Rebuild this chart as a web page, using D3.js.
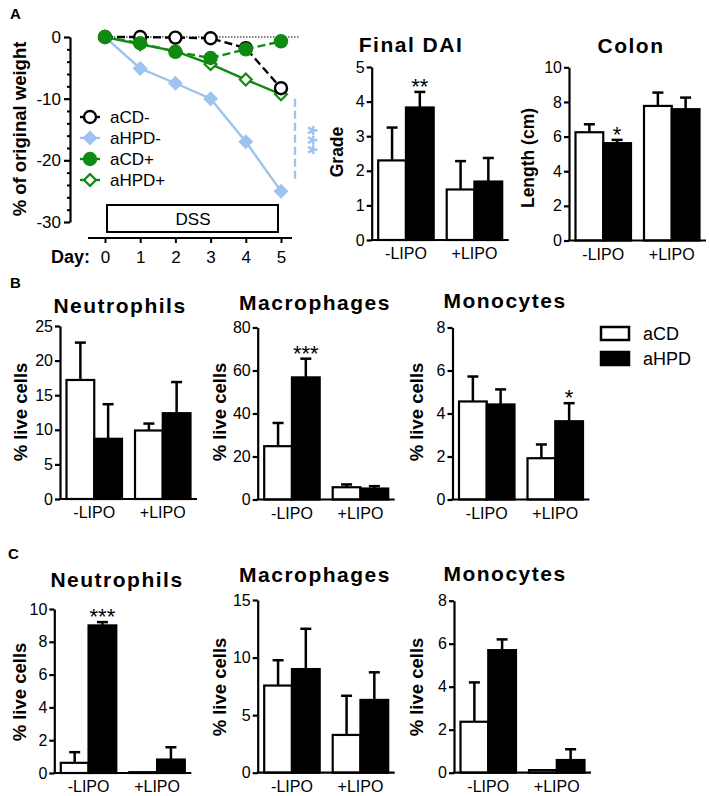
<!DOCTYPE html>
<html><head><meta charset="utf-8">
<script src="https://cdn.jsdelivr.net/npm/d3@7"></script>
<style>
body{margin:0;background:#fff}
svg{display:block}
text{font-family:"Liberation Sans",Arial,Helvetica,sans-serif;fill:#000}
</style>
</head><body>
<svg id="c" width="709" height="796"></svg>
<script>
// ---------------- DATA ----------------
const days = [0, 1, 2, 3, 4, 5];
const weightTicks = [0, -10, -20, -30];
const aCDminus  = [0, 0, -0.1, -0.2, -1.8, -8.3];
const aHPDminus = [0, -5.1, -7.5, -10, -17, -25];
const aCDplus   = [0, -1.0, -2.4, -3.4, -2.0, -0.7];
const aHPDplus  = [0, -1.2, -2.3, -4.4, -6.9, -9.3];

const groups = ["-LIPO", "+LIPO"];
const seriesNames = ["aCD", "aHPD"];

const daiCD = [2.3, 1.46],  daiCDerr = [0.95, 0.82];
const daiHPD = [3.83, 1.69], daiHPDerr = [0.45, 0.68];
const daiTicks = [0, 1, 2, 3, 4, 5];

const colonCD = [6.25, 7.77],  colonCDerr = [0.46, 0.77];
const colonHPD = [5.62, 7.58], colonHPDerr = [0.19, 0.67];
const colonTicks = [0, 2, 4, 6, 8, 10];

const bNeuCD = [17.2, 9.9],  bNeuCDerr = [5.4, 1.0];
const bNeuHPD = [8.7, 12.4], bNeuHPDerr = [5.0, 4.5];
const bNeuTicks = [0, 5, 10, 15, 20, 25];

const bMacCD = [24.8, 5.7],  bMacCDerr = [10.8, 1.3];
const bMacHPD = [56.8, 5.1], bMacHPDerr = [8.7, 1.1];
const bMacTicks = [0, 20, 40, 60, 80];

const bMonCD = [4.56, 1.92],  bMonCDerr = [1.16, 0.64];
const bMonHPD = [4.42, 3.64], bMonHPDerr = [0.7, 0.84];
const bMonTicks = [0, 2, 4, 6, 8];

const cNeuCD = [0.62, 0.05], cNeuCDerr = [0.65, 0];
const cNeuHPD = [9.0, 0.82], cNeuHPDerr = [0.2, 0.75];
const cNeuTicks = [0, 2, 4, 6, 8, 10];

const cMacCD = [7.57, 3.28], cMacCDerr = [2.2, 3.4];
const cMacHPD = [9.0, 6.32], cMacHPDerr = [3.5, 2.4];
const cMacTicks = [0, 5, 10, 15];

const cMonCD = [2.37, 0.12], cMonCDerr = [1.83, 0];
const cMonHPD = [5.7, 0.59], cMonHPDerr = [0.5, 0.5];
const cMonTicks = [0, 2, 4, 6, 8];

// ---------------- DRAWING ----------------
const svg = d3.select("#c");
const BLUE = "#9dc3ee", GREEN = "#118a11";
const fmt = d => String(d);

function styleAxis(sel, w) {
  sel.selectAll(".domain").attr("stroke", "#000").attr("stroke-width", w || 2);
  sel.selectAll(".tick line").attr("stroke", "#000").attr("stroke-width", w || 2);
  sel.selectAll(".tick text").attr("fill", "#000");
}

// panel letters
[["A", 10, 19], ["B", 10, 288], ["C", 8, 559]].forEach(([t, x, y]) =>
  svg.append("text").attr("x", x).attr("y", y).attr("font-size", 15).attr("font-weight", "bold").text(t));

// ---------- Panel A: weight line chart ----------
(function () {
  const g = svg.append("g");
  const x = d3.scaleLinear().domain([0, 5]).range([105, 281]);
  const y = d3.scaleLinear().domain([0, -30]).range([37, 222]);

  g.append("line").attr("x1", x(0)).attr("x2", 300).attr("y1", y(0)).attr("y2", y(0))
    .attr("stroke", "#000").attr("stroke-width", 1).attr("stroke-dasharray", "1.5,1.5");

  const ya = g.append("g").attr("transform", "translate(70,0)")
    .call(d3.axisLeft(y).tickValues(weightTicks).tickFormat(fmt).tickSize(6).tickSizeOuter(0).tickPadding(3));
  ya.selectAll(".tick text").attr("font-size", 17);
  styleAxis(ya, 2.2);
  const minor = d3.range(0, -31, -2).filter(v => v % 10 !== 0);
  const ym = g.append("g").attr("transform", "translate(70,0)")
    .call(d3.axisLeft(y).tickValues(minor).tickFormat("").tickSize(3).tickSizeOuter(0));
  ym.select(".domain").remove();
  styleAxis(ym, 2);

  const xa = g.append("g").attr("transform", "translate(0,238)")
    .call(d3.axisBottom(x).tickValues(days).tickFormat(fmt).tickSize(5).tickPadding(8));
  xa.select(".domain").remove();
  xa.selectAll(".tick text").attr("font-size", 17);
  styleAxis(xa, 2);
  g.append("line").attr("x1", 88).attr("x2", 292).attr("y1", 238).attr("y2", 238)
    .attr("stroke", "#000").attr("stroke-width", 2.2);
  g.append("text").attr("x", 90).attr("y", 263).attr("text-anchor", "end")
    .attr("font-size", 18).attr("font-weight", "bold").text("Day:");

  g.append("text").attr("transform", "translate(26,129) rotate(-90)").attr("text-anchor", "middle")
    .attr("font-size", 18.5).attr("font-weight", "bold").text("% of original weight");

  g.append("rect").attr("x", x(0) + 2).attr("y", 205).attr("width", x(5) - x(0) - 5).attr("height", 27)
    .attr("fill", "#fff").attr("stroke", "#000").attr("stroke-width", 2);
  g.append("text").attr("x", (x(0) + x(5)) / 2).attr("y", 224.5).attr("text-anchor", "middle")
    .attr("font-size", 17).text("DSS");

  const series = [
    { name: "aCD-",  vals: aCDminus,  color: "#000", dash: "8,4", marker: "circle", fill: "#fff" },
    { name: "aHPD-", vals: aHPDminus, color: BLUE,   dash: null,  marker: "diamond", fill: BLUE },
    { name: "aCD+",  vals: aCDplus,   color: GREEN,  dash: "8,4", marker: "circle", fill: GREEN },
    { name: "aHPD+", vals: aHPDplus,  color: GREEN,  dash: null,  marker: "diamond", fill: "#fff" }
  ];
  const drawOrder = [1, 3, 0, 2];
  const line = d3.line().x((d, i) => x(days[i])).y(d => y(d));
  drawOrder.forEach(k => {
    const s = series[k];
    g.append("path").attr("d", line(s.vals)).attr("fill", "none").attr("stroke", s.color)
      .attr("stroke-width", 2.4).attr("stroke-dasharray", s.dash);
  });
  function marker(sel, s, cx, cy) {
    if (s.marker === "circle") {
      sel.append("circle").attr("cx", cx).attr("cy", cy).attr("r", 6)
        .attr("fill", s.fill).attr("stroke", s.color).attr("stroke-width", 2.4);
    } else {
      sel.append("path").attr("d", d3.symbol(d3.symbolSquare, 70)())
        .attr("transform", `translate(${cx},${cy}) rotate(45)`)
        .attr("fill", s.fill).attr("stroke", s.color).attr("stroke-width", 2.2);
    }
  }
  drawOrder.forEach(k => {
    const s = series[k];
    s.vals.forEach((v, i) => marker(g, s, x(days[i]), y(v)));
  });

  series.forEach((s, i) => {
    const ly = 117 + i * 21;
    g.append("line").attr("x1", 80).attr("x2", 100).attr("y1", ly).attr("y2", ly)
      .attr("stroke", s.color).attr("stroke-width", 2.4);
    marker(g, s, 90, ly);
    g.append("text").attr("x", 110).attr("y", ly + 6).attr("font-size", 17).text(s.name);
  });

  g.append("line").attr("x1", 295).attr("x2", 295).attr("y1", y(-10)).attr("y2", y(-23.5))
    .attr("stroke", BLUE).attr("stroke-width", 2.4).attr("stroke-dasharray", "8,4");
  g.append("text").attr("transform", "translate(299,140) rotate(90)").attr("text-anchor", "middle")
    .attr("font-size", 25).attr("font-weight", "bold").style("fill", BLUE).text("***");
})();

// ---------- bar chart helper ----------
function barChart(o) {
  const g = svg.append("g");
  const y = d3.scaleLinear().domain([0, o.ticks[o.ticks.length - 1]]).range([o.y0, o.yTop]);
  const x0 = d3.scaleBand().domain(groups).range([o.ax + 6.5, o.ax + 130.5]).paddingInner(0.19).paddingOuter(0);
  const x1 = d3.scaleBand().domain(seriesNames).range([0, x0.bandwidth()]).padding(0);
  const data = { aCD: o.cd, aHPD: o.hpd };
  const err = { aCD: o.cdErr, aHPD: o.hpdErr };

  groups.forEach((gn, i) => {
    seriesNames.forEach(s => {
      const v = data[s][i], e = err[s][i];
      const bx = x0(gn) + x1(s), bw = x1.bandwidth(), cx = bx + bw / 2;
      if (e > 0) {
        g.append("line").attr("x1", cx).attr("x2", cx).attr("y1", y(v)).attr("y2", y(v + e))
          .attr("stroke", "#000").attr("stroke-width", 2.5);
        g.append("line").attr("x1", cx - 5.5).attr("x2", cx + 5.5).attr("y1", y(v + e)).attr("y2", y(v + e))
          .attr("stroke", "#000").attr("stroke-width", 2.5);
      }
      g.append("rect").attr("x", bx).attr("y", y(v)).attr("width", bw).attr("height", y(0) - y(v))
        .attr("fill", s === "aCD" ? "#fff" : "#000").attr("stroke", "#000").attr("stroke-width", 2.2);
    });
  });
  if (o.star) {
    const [gn, s, txt] = o.star;
    const i = groups.indexOf(gn);
    const cx = x0(gn) + x1(s) + x1.bandwidth() / 2;
    g.append("text").attr("x", cx).attr("y", y(data[s][i] + err[s][i]) + 2).attr("text-anchor", "middle")
      .attr("font-size", 22).text(txt);
  }

  const ya = g.append("g").attr("transform", `translate(${o.ax},0)`)
    .call(d3.axisLeft(y).tickValues(o.ticks).tickFormat(fmt).tickSize(5).tickSizeOuter(0).tickPadding(2));
  ya.selectAll(".tick text").attr("font-size", 16);
  styleAxis(ya, 2.2);
  const xa = g.append("g").attr("transform", `translate(0,${o.y0})`)
    .call(d3.axisBottom(x0).tickSize(0).tickPadding(8));
  xa.select(".domain").remove();
  xa.selectAll(".tick text").attr("font-size", 16);
  g.append("line").attr("x1", o.ax - 1).attr("x2", o.ax + 137).attr("y1", o.y0).attr("y2", o.y0)
    .attr("stroke", "#000").attr("stroke-width", 2.2);

  g.append("text").attr("x", o.tx).attr("y", o.ty).attr("text-anchor", "middle")
    .attr("font-size", 21).attr("font-weight", "bold").attr("letter-spacing", 1.5).text(o.title);
  g.append("text").attr("transform", `translate(${o.lx},${o.ly}) rotate(-90)`).attr("text-anchor", "middle")
    .attr("font-size", o.lfs || 18.5).attr("font-weight", "bold").text(o.ylabel);
}

barChart({ cd: daiCD, cdErr: daiCDerr, hpd: daiHPD, hpdErr: daiHPDerr, ticks: daiTicks,
  ax: 371.7, y0: 240, yTop: 67, title: "Final DAI", tx: 411, ty: 52,
  ylabel: "Grade", lx: 343, ly: 152, lfs: 17.5, star: ["-LIPO", "aHPD", "**"] });
barChart({ cd: colonCD, cdErr: colonCDerr, hpd: colonHPD, hpdErr: colonHPDerr, ticks: colonTicks,
  ax: 569, y0: 240.5, yTop: 67.3, title: "Colon", tx: 631, ty: 53,
  ylabel: "Length (cm)", lx: 534, ly: 158, lfs: 17.5, star: ["-LIPO", "aHPD", "*"] });

barChart({ cd: bNeuCD, cdErr: bNeuCDerr, hpd: bNeuHPD, hpdErr: bNeuHPDerr, ticks: bNeuTicks,
  ax: 60, y0: 499, yTop: 326, title: "Neutrophils", tx: 120, ty: 313,
  ylabel: "% live cells", lx: 27, ly: 412 });
barChart({ cd: bMacCD, cdErr: bMacCDerr, hpd: bMacHPD, hpdErr: bMacHPDerr, ticks: bMacTicks,
  ax: 257.7, y0: 499.5, yTop: 327.5, title: "Macrophages", tx: 315, ty: 310,
  ylabel: "% live cells", lx: 226, ly: 412, star: ["-LIPO", "aHPD", "***"] });
barChart({ cd: bMonCD, cdErr: bMonCDerr, hpd: bMonHPD, hpdErr: bMonHPDerr, ticks: bMonTicks,
  ax: 452.5, y0: 499.5, yTop: 327.5, title: "Monocytes", tx: 505, ty: 308,
  ylabel: "% live cells", lx: 423, ly: 412, star: ["+LIPO", "aHPD", "*"] });

barChart({ cd: cNeuCD, cdErr: cNeuCDerr, hpd: cNeuHPD, hpdErr: cNeuHPDerr, ticks: cNeuTicks,
  ax: 54.3, y0: 773, yTop: 609, title: "Neutrophils", tx: 117, ty: 587,
  ylabel: "% live cells", lx: 26, ly: 692, star: ["-LIPO", "aHPD", "***"] });
barChart({ cd: cMacCD, cdErr: cMacCDerr, hpd: cMacHPD, hpdErr: cMacHPDerr, ticks: cMacTicks,
  ax: 257.7, y0: 772.7, yTop: 600, title: "Macrophages", tx: 315, ty: 582,
  ylabel: "% live cells", lx: 226, ly: 687 });
barChart({ cd: cMonCD, cdErr: cMonCDerr, hpd: cMonHPD, hpdErr: cMonHPDerr, ticks: cMonTicks,
  ax: 454, y0: 772.7, yTop: 600.7, title: "Monocytes", tx: 505, ty: 581,
  ylabel: "% live cells", lx: 423, ly: 687 });

const leg = svg.append("g");
seriesNames.forEach((s, i) => {
  leg.append("rect").attr("x", 601).attr("y", 327 + i * 25).attr("width", 28).attr("height", 13)
    .attr("fill", s === "aCD" ? "#fff" : "#000").attr("stroke", "#000").attr("stroke-width", 2.5);
  leg.append("text").attr("x", 643).attr("y", 339.5 + i * 25).attr("font-size", 18).text(s);
});
</script>
</body></html>
